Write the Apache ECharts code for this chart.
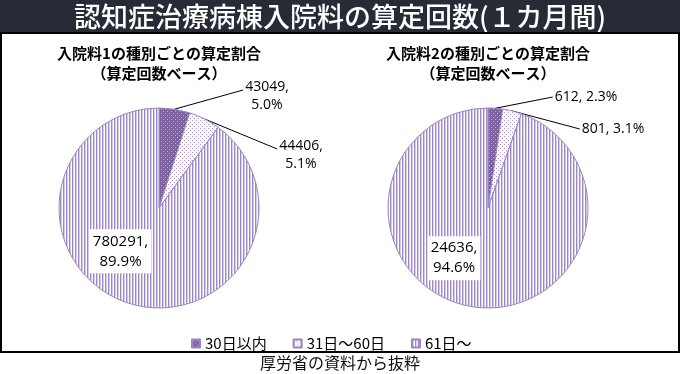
<!DOCTYPE html>
<html><head><meta charset="utf-8">
<script src="https://cdn.jsdelivr.net/npm/echarts@6/dist/echarts.min.js"></script>
<style>html,body{margin:0;padding:0;background:#fff}#c{width:680px;height:374px}</style>
</head><body><div id="c"></div>
<script>
// ---- data ----
const categories = ['30日以内', '31日～60日', '61日～'];
const ward1Values = [43049, 44406, 780291];
const ward2Values = [612, 801, 24636];
const chartTitle = '認知症治療病棟入院料の算定回数(１カ月間)';
const subTitles = ['入院料1の種別ごとの算定割合\n（算定回数ベース）', '入院料2の種別ごとの算定割合\n（算定回数ベース）'];
const sourceNote = '厚労省の資料から抜粋';

// ---- layout / style ----
const pieCenters = [[159, 208], [488, 208]];
const pieRadius = 100;
const outerLabelPos = [[[267, 96], [301, 155]], [[586, 97], [613, 129]]];
const innerLabelOffset = [[-22, -7], [-25, -2]];
const labelFont = "'Open Sans', 'Noto Sans CJK JP', sans-serif";
const cjkFont = "'Noto Sans CJK JP', sans-serif";

function pattern(w, h, bg, pixels) {
  const c = document.createElement('canvas');
  c.width = w; c.height = h;
  const x = c.getContext('2d');
  x.fillStyle = bg; x.fillRect(0, 0, w, h);
  pixels.forEach(p => { x.fillStyle = p[2]; x.fillRect(p[0], p[1], 1, 1); });
  return { image: c, repeat: 'repeat' };
}
const fills = [
  pattern(4, 4, '#7f63a1', [[1, 1, '#b9a9d2'], [3, 3, '#b9a9d2']]),
  pattern(4, 4, '#fbfafd', [[0, 0, '#a895cb'], [2, 2, '#a895cb']]),
  pattern(3, 1, '#ffffff', [[0, 0, '#9d88c6'], [1, 0, '#d6cce8']])
];

function midPoint(values, idx, si) {
  const total = values.reduce((a, b) => a + b, 0);
  let cum = 0;
  for (let i = 0; i < idx; i++) cum += values[i];
  const th = 2 * Math.PI * (cum + values[idx] / 2) / total;
  const c = pieCenters[si];
  return [c[0] + pieRadius * Math.sin(th), c[1] - pieRadius * Math.cos(th)];
}

function makeSeries(values, si) {
  const twoLine = si === 0;
  return {
    type: 'pie',
    center: pieCenters[si],
    radius: pieRadius,
    startAngle: 90,
    clockwise: true,
    percentPrecision: 1,
    avoidLabelOverlap: false,
    animation: false,
    itemStyle: { borderColor: '#9a86c2', borderWidth: 1 },
    emphasis: { disabled: true },
    data: values.map((v, i) => {
      const inner = i === values.length - 1;
      return {
        name: categories[i],
        value: v,
        itemStyle: { color: fills[i] },
        label: inner ? {
          position: 'inside',
          fontSize: 15, lineHeight: 20, color: '#000', fontFamily: labelFont,
          backgroundColor: '#fff', padding: [3, 3, 1, 3],
          formatter: p => p.value + ',\n' + p.percent.toFixed(1) + '%'
        } : {
          position: 'outside',
          fontSize: 14, lineHeight: 18, color: '#000', fontFamily: labelFont, align: 'center',
          formatter: p => p.value + (twoLine ? ',\n' : ', ') + p.percent.toFixed(1) + '%'
        },
        labelLine: { show: !inner, lineStyle: { color: '#000', width: 1 } }
      };
    }),
    labelLayout: function (params) {
      const i = params.dataIndex;
      if (i === values.length - 1) {
        return { dx: innerLabelOffset[si][0], dy: innerLabelOffset[si][1] };
      }
      const pos = outerLabelPos[si][i];
      const w = params.labelRect.width;
      const start = midPoint(values, i, si);
      const end = [pos[0] - w / 2 - 2, pos[1] + (twoLine ? -6 : 0)];
      return {
        x: pos[0], y: pos[1], align: 'center', verticalAlign: 'middle',
        labelLinePoints: [start, [(start[0] + end[0]) / 2, (start[1] + end[1]) / 2], end]
      };
    }
  };
}

const chart = echarts.init(document.getElementById('c'), null, { renderer: 'canvas' });
chart.setOption({
  backgroundColor: '#fff',
  animation: false,
  legend: {
    data: categories,
    top: 331, left: 186,
    itemWidth: 8, itemHeight: 8, itemGap: 26,
    icon: 'rect',
    selectedMode: false,
    textStyle: { fontSize: 15, color: '#000', fontFamily: cjkFont }
  },
  graphic: [
    { type: 'rect', shape: { x: 0, y: 0, width: 680, height: 33 }, style: { fill: '#262b36' }, z: 0 },
    { type: 'text', x: 340, y: 17, style: { text: chartTitle, fill: '#fff', fontSize: 27, fontWeight: 500, fontFamily: cjkFont, textAlign: 'center', textVerticalAlign: 'middle' } },
    { type: 'rect', shape: { x: 1, y: 33, width: 678, height: 319 }, style: { fill: null, stroke: '#000', lineWidth: 2 } },
    { type: 'text', x: pieCenters[0][0], y: 43, style: { text: subTitles[0], fill: '#000', fontSize: 15, fontWeight: 'bold', lineHeight: 20, fontFamily: cjkFont, textAlign: 'center', textVerticalAlign: 'top' } },
    { type: 'text', x: pieCenters[1][0], y: 43, style: { text: subTitles[1], fill: '#000', fontSize: 15, fontWeight: 'bold', lineHeight: 20, fontFamily: cjkFont, textAlign: 'center', textVerticalAlign: 'top' } },
    { type: 'text', x: 340, y: 363, style: { text: sourceNote, fill: '#111', fontSize: 16, fontFamily: cjkFont, textAlign: 'center', textVerticalAlign: 'middle' } }
  ],
  series: [makeSeries(ward1Values, 0), makeSeries(ward2Values, 1)]
});
</script>
</body></html>
